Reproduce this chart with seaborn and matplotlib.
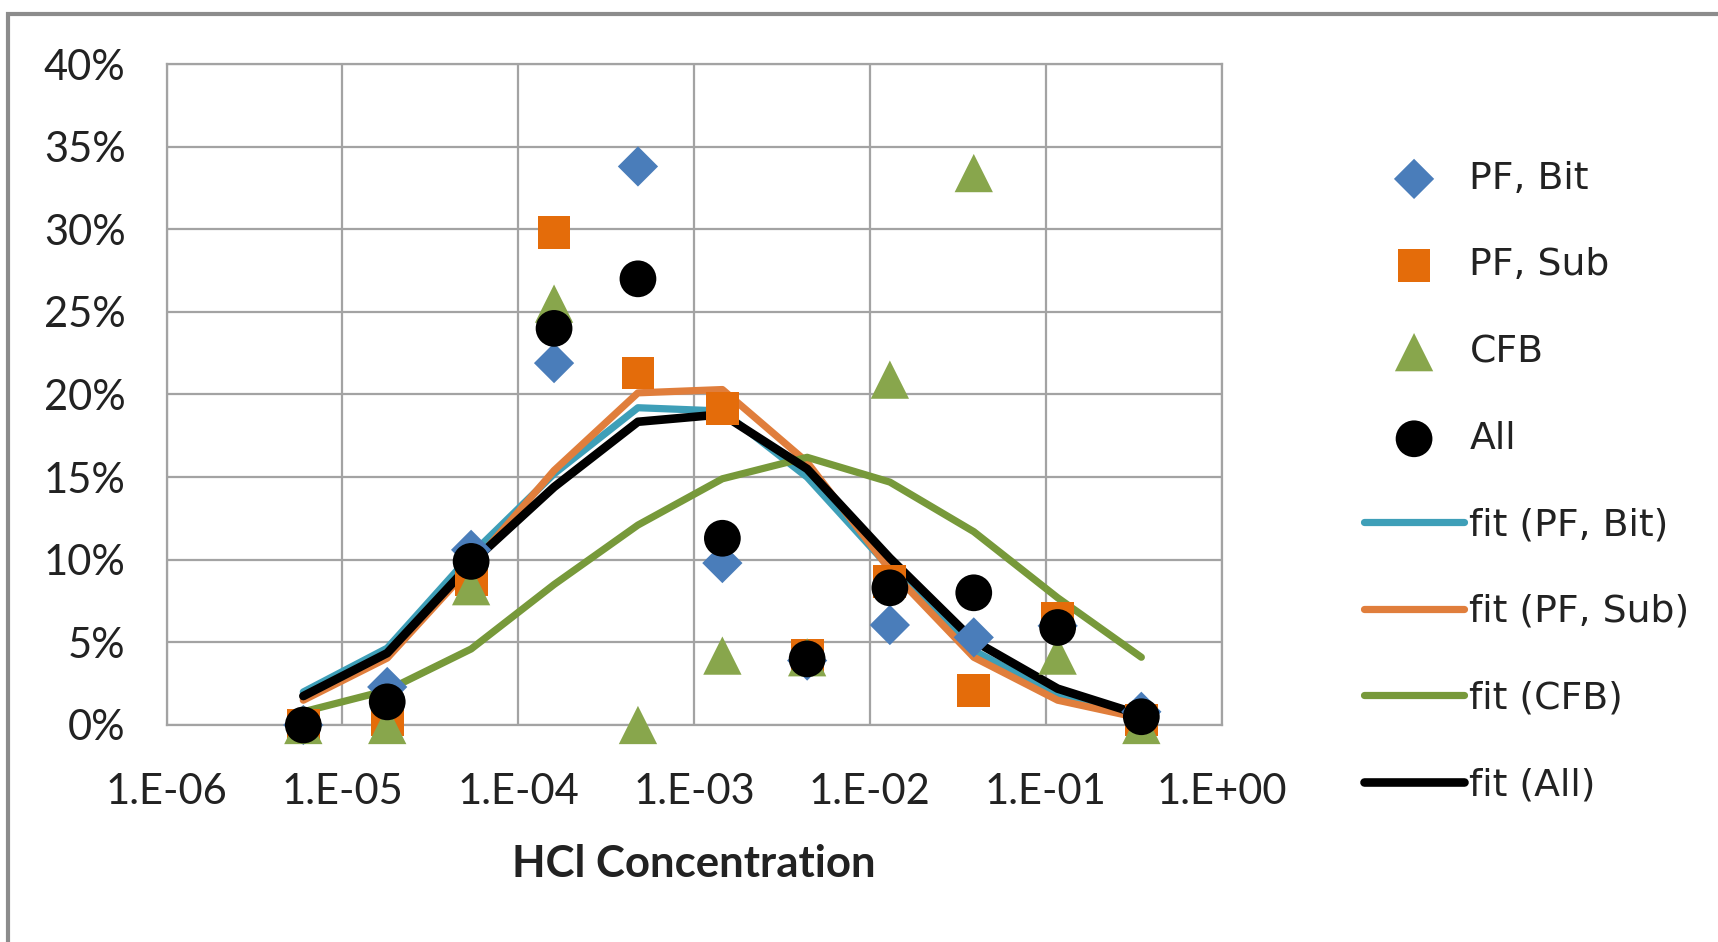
import matplotlib
matplotlib.use("Agg")
import matplotlib.pyplot as plt
import seaborn as sns
from matplotlib.patches import Rectangle

# ---------------- data ----------------
hcl_conc = [6.0e-6, 1.8e-5, 5.4e-5, 1.6e-4, 4.8e-4, 1.45e-3, 4.4e-3, 1.3e-2, 3.9e-2, 1.17e-1, 3.5e-1]

pf_bit = [0.0, 2.3, 10.6, 21.9, 33.8, 9.8, 3.9, 6.05, 5.3, 6.0, 0.8]
pf_sub = [0.0, 0.3, 8.8, 29.8, 21.3, 19.15, 4.2, 8.66, 2.1, 6.45, 0.3]
cfb = [0.0, 0.0, 8.4, 25.5, 0.0, 4.2, 4.1, 20.9, 33.4, 4.2, 0.0]
all_pts = [0.0, 1.4, 9.9, 24.0, 27.0, 11.3, 4.0, 8.3, 8.0, 5.9, 0.5]

fit_pf_bit = [2.0, 4.65, 10.3, 15.2, 19.2, 19.0, 15.0, 9.5, 4.5, 1.8, 0.5]
fit_pf_sub = [1.5, 4.05, 9.6, 15.4, 20.1, 20.3, 15.9, 9.4, 4.1, 1.5, 0.4]
fit_cfb = [0.8, 2.1, 4.6, 8.5, 12.1, 14.9, 16.2, 14.7, 11.7, 7.7, 4.1]
fit_all = [1.75, 4.35, 9.8, 14.4, 18.35, 18.8, 15.5, 10.1, 5.1, 2.2, 0.6]

x_ticks = [1e-6, 1e-5, 1e-4, 1e-3, 1e-2, 1e-1, 1e0]
x_tick_labels = ["1.E-06", "1.E-05", "1.E-04", "1.E-03", "1.E-02", "1.E-01", "1.E+00"]
y_ticks = [0, 5, 10, 15, 20, 25, 30, 35, 40]
y_tick_labels = [f"{v}%" for v in y_ticks]
x_label = "HCl Concentration"
legend_order = ["PF, Bit", "PF, Sub", "CFB", "All",
                "fit (PF, Bit)", "fit (PF, Sub)", "fit (CFB)", "fit (All)"]

# ---------------- style ----------------
sns.set_theme(style="white")
plt.rcParams["font.family"] = ["Lato", "DejaVu Sans"]

GRID = "#A3A3A3"

fig = plt.figure(figsize=(17.18, 9.42), dpi=100)
fig.patch.set_facecolor("white")
ax = fig.add_axes([166.5 / 1718, 1 - 725 / 942, 1055 / 1718, (725 - 64) / 942])

# fits (lines)
sns.lineplot(x=hcl_conc, y=fit_pf_bit, color="#3E9FB8", lw=5.2, label="fit (PF, Bit)",
             estimator=None, ax=ax, zorder=3, solid_capstyle="round")
sns.lineplot(x=hcl_conc, y=fit_pf_sub, color="#E07E3C", lw=5.2, label="fit (PF, Sub)",
             estimator=None, ax=ax, zorder=3.1, solid_capstyle="round")
sns.lineplot(x=hcl_conc, y=fit_cfb, color="#77993A", lw=5.2, label="fit (CFB)",
             estimator=None, ax=ax, zorder=3.2, solid_capstyle="round")
sns.lineplot(x=hcl_conc, y=fit_all, color="#000000", lw=6.2, label="fit (All)",
             estimator=None, ax=ax, zorder=3.3, solid_capstyle="round")

# points
sns.scatterplot(x=hcl_conc, y=pf_bit, marker="D", s=420, color="#4A7DBA", edgecolor="none",
                label="PF, Bit", ax=ax, zorder=5, clip_on=False)
sns.scatterplot(x=hcl_conc, y=pf_sub, marker="s", s=560, color="#E46C0A", edgecolor="none",
                label="PF, Sub", ax=ax, zorder=6, clip_on=False)
sns.scatterplot(x=hcl_conc, y=cfb, marker="^", s=760, color="#88A64C", edgecolor="none",
                label="CFB", ax=ax, zorder=7, clip_on=False)
sns.scatterplot(x=hcl_conc, y=all_pts, marker="o", s=700, color="#000000", edgecolor="none",
                label="All", ax=ax, zorder=8, clip_on=False)

ax.set_xscale("log")
ax.set_xlim(1e-6, 1e0)
ax.set_ylim(0, 40)
ax.set_xticks(x_ticks)
ax.set_xticklabels(x_tick_labels)
ax.minorticks_off()
ax.set_yticks(y_ticks)
ax.set_yticklabels(y_tick_labels)

ax.set_axisbelow(True)
ax.grid(True, color=GRID, lw=1.6)
for sp in ax.spines.values():
    sp.set_color(GRID)
    sp.set_linewidth(1.6)

ax.tick_params(axis="both", which="major", direction="out", length=9.5, width=1.6,
               color=GRID, labelsize=30, labelcolor="#222222")
ax.tick_params(axis="y", pad=20)
ax.tick_params(axis="x", pad=25)

ax.set_xlabel(x_label, fontsize=31.5, fontweight="bold", color="#222222", labelpad=24)
ax.set_ylabel("")

# legend
h, l = ax.get_legend_handles_labels()
hmap = dict(zip(l, h))
leg = fig.legend([hmap[k] for k in legend_order], legend_order,
                 loc="center left", bbox_to_anchor=(1364 / 1718, 1 - 482 / 942),
                 frameon=False, borderpad=0, borderaxespad=0,
                 handlelength=2.65, handletextpad=0.14, labelspacing=1.34,
                 scatterpoints=1, prop={"family": "DejaVu Sans", "size": 27.2})
for t in leg.get_texts():
    t.set_color("#222222")
if ax.get_legend() is not None:
    ax.get_legend().remove()

# chart area border
fig.patches.append(Rectangle((8 / 1718, -0.05), 1.2, 1 - 14 / 942 + 0.05,
                             transform=fig.transFigure, fill=False,
                             edgecolor="#8C8C8C", lw=3, zorder=0))

fig.savefig("out.png", dpi=100, facecolor="white")
